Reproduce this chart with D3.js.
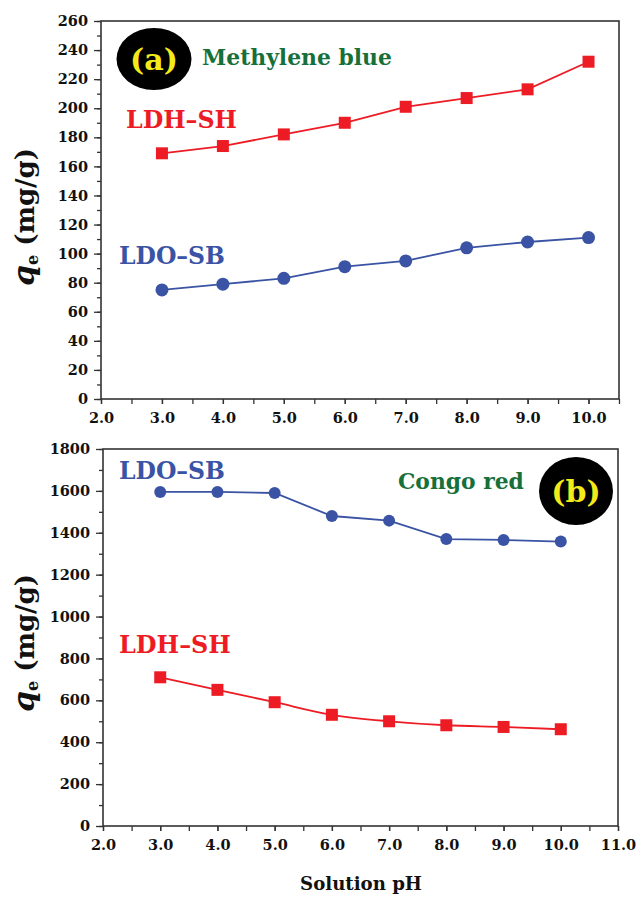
<!DOCTYPE html>
<html><head><meta charset="utf-8">
<script src="https://cdn.jsdelivr.net/npm/d3@7"></script>
<style>
body{margin:0;background:#fff;}
svg{display:block;font-family:"DejaVu Serif",serif;}
</style></head>
<body><svg id="c" width="636" height="897"></svg>
<script>
const pH = [3,4,5,6,7,8,9,10];
// Panel (a) Methylene blue
const mbLDH = [169,174,182,190,201,207,213,232];
const mbLDO = [75,79,83,91,95,104,108,111];
// Panel (b) Congo red
const crLDO = [1595,1595,1590,1480,1458,1370,1366,1358];
const crLDH = [710,650,591,531,500,481,473,462];

const yTicksA = d3.range(0,261,20);
const yTicksB = d3.range(0,1801,200);
const xTicksA = [2,3,4,5,6,7,8,9,10];
const xTicksB = [2,3,4,5,6,7,8,9,10,11];

const RED="#ed1c24", BLUE="#3a53a4", GREEN="#17703a", YEL="#f4ea1a";
const svg=d3.select("#c");

function panel(o){
  const x=d3.scaleLinear().domain(o.xd).range([o.l,o.r]);
  const y=d3.scaleLinear().domain(o.yd).range([o.b,o.t]);
  const g=svg.append("g");
  g.append("rect").attr("x",o.l).attr("y",o.t).attr("width",o.r-o.l).attr("height",o.b-o.t)
    .attr("fill","none").attr("stroke","#333").attr("stroke-width",1.6);
  const yMinor = d3.range(o.yd[0],o.yd[1]+1e-9,o.ystep/2);
  g.append("g").attr("transform",`translate(${o.l},0)`)
    .call(d3.axisLeft(y).tickValues(yMinor).tickSize(4).tickFormat(""))
    .call(s=>s.select(".domain").remove());
  const xMinor = d3.range(o.xd[0],o.xd[1]+1e-9,0.5);
  g.append("g").attr("transform",`translate(0,${o.b})`)
    .call(d3.axisBottom(x).tickValues(xMinor).tickSize(5).tickFormat(""))
    .call(s=>s.select(".domain").remove());
  const ya=g.append("g").attr("transform",`translate(${o.l},0)`)
    .call(d3.axisLeft(y).tickValues(o.yt).tickSize(7).tickPadding(6).tickFormat(d3.format("d")));
  ya.select(".domain").remove();
  const xa=g.append("g").attr("transform",`translate(0,${o.b})`)
    .call(d3.axisBottom(x).tickValues(o.xt).tickSize(5).tickPadding(9).tickFormat(d3.format(".1f")));
  xa.select(".domain").remove();
  g.selectAll(".tick line").attr("stroke","#333").attr("stroke-width",1.3);
  g.selectAll(".tick text").attr("font-family","DejaVu Serif, serif").attr("font-weight","bold")
    .attr("font-size",14.5).attr("fill","#111");

  o.series.forEach(s=>{
    const ln=d3.line().x((d,i)=>x(pH[i])).y(d=>y(d)).curve(s.curve||d3.curveLinear);
    g.append("path").datum(s.v).attr("d",ln).attr("fill","none").attr("stroke",s.c).attr("stroke-width",1.8);
    if(s.shape==="sq"){
      g.selectAll(null).data(s.v).enter().append("rect")
        .attr("x",(d,i)=>x(pH[i])-6).attr("y",d=>y(d)-6).attr("width",12).attr("height",12).attr("fill",s.c);
    } else {
      g.selectAll(null).data(s.v).enter().append("circle")
        .attr("cx",(d,i)=>x(pH[i])).attr("cy",d=>y(d)).attr("r",s.r).attr("fill",s.c);
    }
  });
  const yt=g.append("text").attr("transform",`translate(34,${o.yc}) rotate(-90)`)
    .attr("text-anchor","middle").attr("font-weight","bold").attr("font-size",26).attr("fill","#111");
  yt.append("tspan").attr("font-style","italic").attr("font-size",30).text("q");
  yt.append("tspan").attr("font-size",16).attr("dy",4).text("e");
  yt.append("tspan").attr("dy",-4).text(" (mg/g)");
  return {x,y,g};
}

panel({l:101,r:619,t:21,b:399,xd:[2,10.5],yd:[0,260],ystep:20,yt:yTicksA,xt:xTicksA,yc:217,
  series:[{v:mbLDH,c:RED,shape:"sq"},{v:mbLDO,c:BLUE,shape:"ci",r:6.5}]});
panel({l:103,r:618,t:449,b:826,xd:[2,11],yd:[0,1800],ystep:200,yt:yTicksB,xt:xTicksB,yc:643,
  series:[{v:crLDO,c:BLUE,shape:"ci",r:6},{v:crLDH,c:RED,shape:"sq",curve:d3.curveMonotoneX}]});

function label(txt,x,y,size,color,anchor,w){
  const t=svg.append("text").attr("x",x).attr("y",y).attr("font-weight","bold").attr("font-size",size)
    .attr("fill",color).attr("text-anchor",anchor||"start").text(txt);
  if(w){ const L=t.node().getComputedTextLength(); t.attr("font-size",size*w/L); }
}
svg.append("ellipse").attr("cx",154).attr("cy",59).attr("rx",37.5).attr("ry",31).attr("fill","#000");
label("(a)",154,70,30,YEL,"middle");
label("Methylene blue",202,65,20,GREEN,"start",190);
label("LDH\u2013SH",126,128,20,RED,"start",111);
label("LDO\u2013SB",119,264,20,BLUE,"start",106);
svg.append("ellipse").attr("cx",576).attr("cy",491).attr("rx",37).attr("ry",34).attr("fill","#000");
label("(b)",576,502,30,YEL,"middle");
label("Congo red",398,489,20,GREEN,"start",126);
label("LDO\u2013SB",119,479,20,BLUE,"start",106);
label("LDH\u2013SH",119,653,20,RED,"start",112);
label("Solution pH",361,890,17,"#111","middle",122);
</script></body></html>
